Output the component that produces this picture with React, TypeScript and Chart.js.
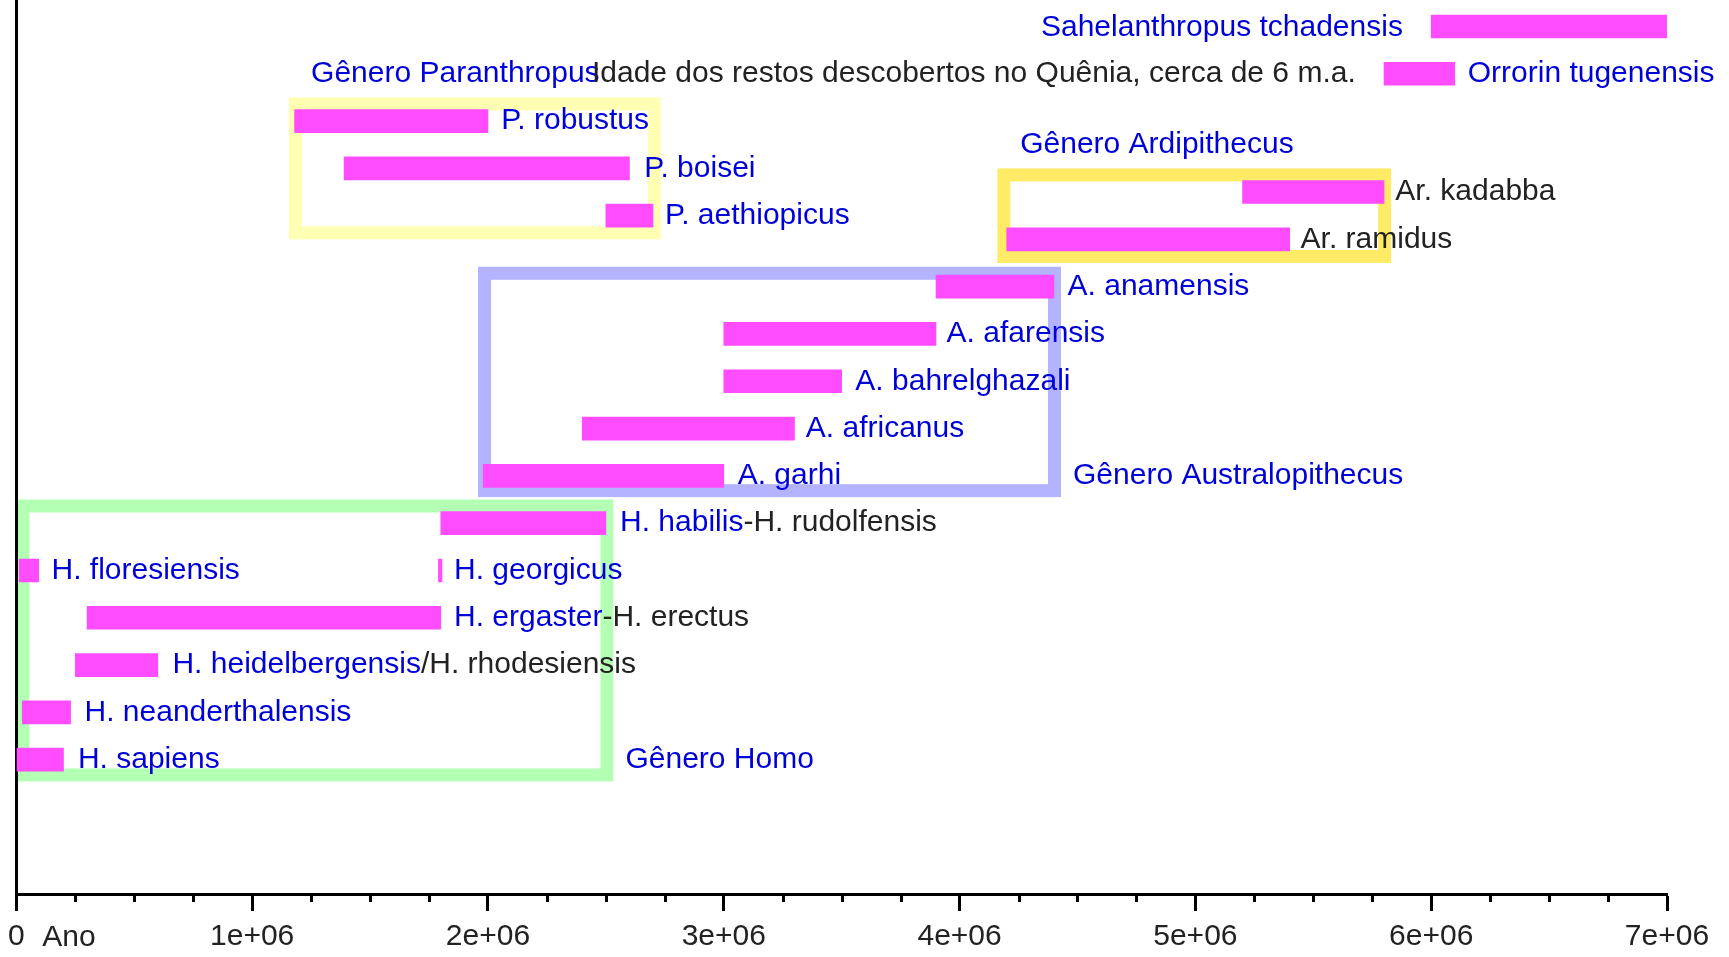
import { useEffect, useRef } from "react";
import { Chart, registerables } from "chart.js";

Chart.register(...registerables);

// ---- data (years before present, row positions) ----
const species = [
  "Sahelanthropus tchadensis",
  "Orrorin tugenensis",
  "P. robustus",
  "P. boisei",
  "Ar. kadabba",
  "P. aethiopicus",
  "Ar. ramidus",
  "A. anamensis",
  "A. afarensis",
  "A. bahrelghazali",
  "A. africanus",
  "A. garhi",
  "H. habilis-H. rudolfensis",
  "H. floresiensis",
  "H. georgicus",
  "H. ergaster-H. erectus",
  "H. heidelbergensis/H. rhodesiensis",
  "H. neanderthalensis",
  "H. sapiens",
];
const rows = [15.5, 14.5, 13.5, 12.5, 12, 11.5, 11, 10, 9, 8, 7, 6, 5, 4, 4, 3, 2, 1, 0];
const startYears = [
  6.0e6, 5.8e6, 1.18e6, 1.39e6, 5.2e6, 2.5e6, 4.2e6, 3.9e6, 3.0e6, 3.0e6, 2.4e6, 1.98e6,
  1.8e6, 0.012e6, 1.79e6, 0.3e6, 0.25e6, 0.025e6, 0,
];
const endYears = [
  7.0e6, 6.1e6, 2.0e6, 2.6e6, 5.8e6, 2.7e6, 5.4e6, 4.4e6, 3.9e6, 3.5e6, 3.3e6, 3.0e6,
  2.5e6, 0.095e6, 1.805e6, 1.8e6, 0.6e6, 0.23e6, 0.2e6,
];

const tickValues = [0, 1e6, 2e6, 3e6, 4e6, 5e6, 6e6, 7e6];
const tickLabels = ["0", "1e+06", "2e+06", "3e+06", "4e+06", "5e+06", "6e+06", "7e+06"];
const minorStep = 2.5e5;
const axisTitle = "Ano";

// ---- text annotations (data coordinates); kind "n" = species name, "c" = comment ----
const labelSegments: [string, string][][] = [
  [["Sahelanthropus tchadensis", "n"]],
  [["Gênero Paranthropus", "n"]],
  [["Idade dos restos descobertos no Quênia, cerca de 6 m.a.", "c"]],
  [["Orrorin tugenensis", "n"]],
  [["P. robustus", "n"]],
  [["P. boisei", "n"]],
  [["P. aethiopicus", "n"]],
  [["Gênero Ardipithecus", "n"]],
  [["Ar. kadabba", "c"]],
  [["Ar. ramidus", "c"]],
  [["A. anamensis", "n"]],
  [["A. afarensis", "n"]],
  [["A. bahrelghazali", "n"]],
  [["A. africanus", "n"]],
  [["A. garhi", "n"]],
  [["Gênero Australopithecus", "n"]],
  [["H. habilis", "n"], ["-H. rudolfensis", "c"]],
  [["H. floresiensis", "n"]],
  [["H. georgicus", "n"]],
  [["H. ergaster", "n"], ["-H. erectus", "c"]],
  [["H. heidelbergensis", "n"], ["/H. rhodesiensis", "c"]],
  [["H. neanderthalensis", "n"]],
  [["H. sapiens", "n"]],
  [["Gênero Homo", "n"]],
];
const labelX = [
  5.88e6, 1.25e6, 5.68e6, 6.155e6, 2.056e6, 2.663e6, 2.751e6, 4.257e6, 5.848e6, 5.446e6,
  4.458e6, 3.945e6, 3.558e6, 3.348e6, 3.059e6, 4.481e6, 2.56e6, 0.149e6, 1.856e6, 1.856e6,
  0.662e6, 0.289e6, 0.261e6, 2.583e6,
];
const labelRows = [
  15.47, 14.5, 14.5, 14.5, 13.5, 12.5, 11.5, 13, 12, 11, 10, 9, 8, 7, 6, 6, 5, 4, 4, 3, 2, 1, 0, 0,
];
const labelAlign = [
  "right", "left", "right", "left", "left", "left", "left", "left", "left", "left", "left", "left",
  "left", "left", "left", "left", "left", "left", "left", "left", "left", "left", "left", "left",
];

// ---- genus boxes (outer extents, data coordinates) ----
const boxX0 = [1.156e6, 4.16e6, 1.958e6, 0];
const boxX1 = [2.733e6, 5.83e6, 4.43e6, 2.532e6];
const boxRowTop = [14.0, 12.5, 10.42, 5.5];
const boxRowBottom = [11.0, 10.5, 5.55, -0.46];
const boxColors = ["#ffffb3", "#ffeb66", "#b3b3ff", "#b3ffb3"];

const FONT_FAMILY = "'Liberation Sans', Arial, Helvetica, sans-serif";
const FONT = `30px ${FONT_FAMILY}`;
const NAME_COLOR = "#0000d8";
const NOTE_COLOR = "#222222";

const annotations = {
  id: "annotations",
  beforeDraw(chart: any) {
    const { ctx } = chart;
    const x = chart.scales.x;
    const y = chart.scales.y;
    const lw = 13;
    ctx.save();
    for (let i = 0; i < boxX0.length; i++) {
      const l = x.getPixelForValue(boxX0[i]);
      const r = x.getPixelForValue(boxX1[i]);
      const t = y.getPixelForValue(boxRowTop[i]);
      const b = y.getPixelForValue(boxRowBottom[i]);
      ctx.strokeStyle = boxColors[i];
      ctx.lineWidth = lw;
      ctx.strokeRect(l + lw / 2, t + lw / 2, r - l - lw, b - t - lw);
    }
    ctx.restore();
  },
  afterDatasetsDraw(chart: any) {
    const { ctx } = chart;
    const x = chart.scales.x;
    const y = chart.scales.y;
    ctx.save();
    ctx.font = FONT;
    ctx.textBaseline = "middle";
    ctx.textAlign = "left";
    for (let i = 0; i < labelSegments.length; i++) {
      const segs = labelSegments[i];
      const total = segs.reduce((s, [t]) => s + ctx.measureText(t).width, 0);
      let px = x.getPixelForValue(labelX[i]);
      if (labelAlign[i] === "right") px -= total;
      const py = y.getPixelForValue(labelRows[i]);
      for (const [t, kind] of segs) {
        ctx.fillStyle = kind === "n" ? NAME_COLOR : NOTE_COLOR;
        ctx.fillText(t, px, py);
        px += ctx.measureText(t).width;
      }
    }
    ctx.restore();
  },
  afterDraw(chart: any) {
    const { ctx, chartArea } = chart;
    const x = chart.scales.x;
    ctx.save();
    ctx.strokeStyle = "#000";
    ctx.lineWidth = 3;
    ctx.beginPath();
    for (let v = minorStep; v < 7e6; v += minorStep) {
      if (v % 1e6 === 0) continue;
      const px = Math.round(x.getPixelForValue(v)) + 0.5;
      ctx.moveTo(px, chartArea.bottom);
      ctx.lineTo(px, chartArea.bottom + 8);
    }
    ctx.stroke();
    ctx.font = FONT;
    ctx.fillStyle = NOTE_COLOR;
    ctx.textBaseline = "middle";
    ctx.textAlign = "left";
    ctx.fillText(axisTitle, x.getPixelForValue(0) + 26, chartArea.bottom + 44);
    ctx.restore();
  },
};

export default function App() {
  const canvasRef = useRef<HTMLCanvasElement | null>(null);

  useEffect(() => {
    document.body.style.margin = "0";
    const canvas = canvasRef.current;
    if (!canvas) return;
    const chart = new Chart(canvas, {
      type: "bar",
      data: {
        datasets: [
          {
            label: "Espécies",
            data: species.map((_, i) => ({ x: [startYears[i], endYears[i]], y: rows[i] })) as any,
            backgroundColor: "#ff4cff",
            borderWidth: 0,
            barThickness: 23,
          },
        ],
      },
      options: {
        indexAxis: "y",
        animation: false,
        responsive: false,
        devicePixelRatio: 1,
        layout: { padding: { left: 0, right: 62, top: 0, bottom: 0 } },
        plugins: {
          legend: { display: false },
          tooltip: { enabled: false },
        },
        scales: {
          x: {
            type: "linear",
            position: "bottom",
            min: 0,
            max: 7e6,
            offset: false,
            afterFit: (s: any) => {
              s.height = 63;
            },
            afterBuildTicks: (s: any) => {
              s.ticks = tickValues.map((v) => ({ value: v }));
            },
            grid: {
              display: true,
              drawOnChartArea: false,
              drawTicks: true,
              tickLength: 17,
              tickWidth: 3,
              tickColor: "#000",
              color: "#000",
              offset: false,
            },
            border: { display: true, color: "#000", width: 3 },
            ticks: {
              autoSkip: false,
              maxRotation: 0,
              padding: 8,
              color: "#222",
              font: { family: FONT_FAMILY, size: 30 },
              callback: (v: any) => {
                const idx = tickValues.indexOf(Number(v));
                return idx >= 0 ? tickLabels[idx] : "";
              },
            },
          },
          y: {
            type: "linear",
            min: -2.84,
            max: 16.06,
            offset: false,
            afterFit: (s: any) => {
              s.width = 13.5;
            },
            grid: { display: false, drawTicks: false, offset: false },
            border: { display: true, color: "#000", width: 3 },
            ticks: { display: false },
          },
        },
      },
      plugins: [annotations],
    });
    return () => chart.destroy();
  }, []);

  return (
    <div style={{ width: 1729, height: 957, background: "#fff" }}>
      <canvas ref={canvasRef} width={1729} height={957} style={{ display: "block" }} />
    </div>
  );
}
